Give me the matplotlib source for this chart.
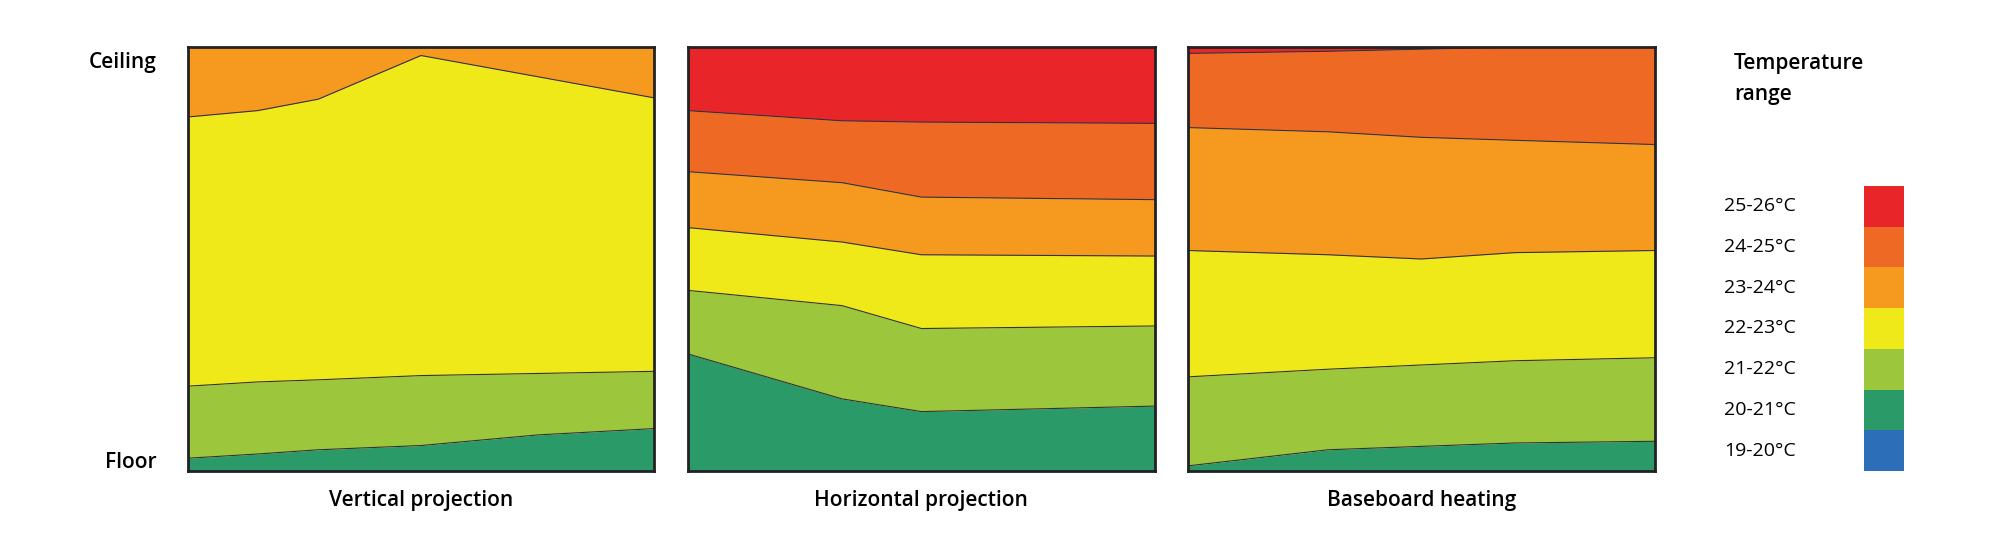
import matplotlib
matplotlib.use("Agg")
import matplotlib.pyplot as plt
import numpy as np

plt.rcParams['font.family'] = ['Open Sans', 'DejaVu Sans']
plt.rcParams['font.weight'] = 'semibold'

titles = ["Vertical projection", "Horizontal projection", "Baseboard heating"]
colors = ["#2c6fb8", "#2a9a68", "#9cc63b", "#f0e91a", "#f59a1f", "#ee6a24", "#e8262a"]
labels = ["19-20°C", "20-21°C", "21-22°C", "22-23°C", "23-24°C", "24-25°C", "25-26°C"]

# x positions (fraction of width) and band top boundaries (fraction of height), starting at 20-21°C band
p1_x = [0, 0.15, 0.28, 0.5, 0.75, 1]
p1_b = [[0.03, 0.04, 0.05, 0.06, 0.085, 0.10],
        [0.20, 0.21, 0.215, 0.225, 0.23, 0.235],
        [0.835, 0.85, 0.877, 0.98, 0.93, 0.88],
        [1, 1, 1, 1, 1, 1]]
p2_x = [0, 0.33, 0.5, 1]
p2_b = [[0.276, 0.17, 0.14, 0.153],
        [0.426, 0.39, 0.336, 0.342],
        [0.574, 0.54, 0.51, 0.507],
        [0.706, 0.68, 0.646, 0.64],
        [0.85, 0.826, 0.823, 0.82],
        [1, 1, 1, 1]]
p3_x = [0, 0.3, 0.5, 0.7, 1]
p3_b = [[0.012, 0.05, 0.058, 0.066, 0.07],
        [0.222, 0.24, 0.25, 0.26, 0.267],
        [0.52, 0.51, 0.50, 0.515, 0.52],
        [0.81, 0.80, 0.787, 0.78, 0.77],
        [0.985, 0.99, 0.995, 1.0, 1.0],
        [1, 1, 1, 1, 1]]

fig = plt.figure(figsize=(20, 5.6), dpi=100)
lefts = [0.0938, 0.344, 0.594]
panels = [(p1_x, p1_b), (p2_x, p2_b), (p3_x, p3_b)]
for i, (xs, bs) in enumerate(panels):
    ax = fig.add_axes([lefts[i], 0.159, 0.2334, 0.757])
    lower = np.zeros(len(xs))
    for j, top in enumerate(bs):
        top = np.array(top)
        ax.fill_between(xs, lower, top, color=colors[j + 1], lw=0)
        if j < len(bs) - 1:
            ax.plot(xs, top, color="#333333", lw=0.8)
        lower = top
    ax.set_xlim(0, 1); ax.set_ylim(0, 1)
    ax.set_xticks([])
    for s in ax.spines.values():
        s.set_linewidth(2); s.set_color("#222222")
    if i == 0:
        ax.set_yticks([0.025, 0.97], ["Floor", "Ceiling"], fontsize=15)
        ax.tick_params(axis='y', length=0, pad=22)
    else:
        ax.set_yticks([])
    ax.set_xlabel(titles[i], fontsize=15, labelpad=14, fontweight='semibold')

lax = fig.add_axes([0.932, 0.159, 0.0198, 0.509])
for k, c in enumerate(colors):
    lax.bar(0.5, 1, bottom=k, width=1, color=c)
lax.set_xlim(0, 1); lax.set_ylim(0, len(colors))
lax.axis('off')
for k, lab in enumerate(labels):
    fig.text(0.862, 0.159 + 0.509 * (k + 0.5) / len(colors), lab, fontsize=14, va='center', ha='left', fontweight='normal')
fig.text(0.867, 0.905, "Temperature\nrange", fontsize=15, va='top', ha='left', linespacing=1.6)

fig.savefig("out.png")
